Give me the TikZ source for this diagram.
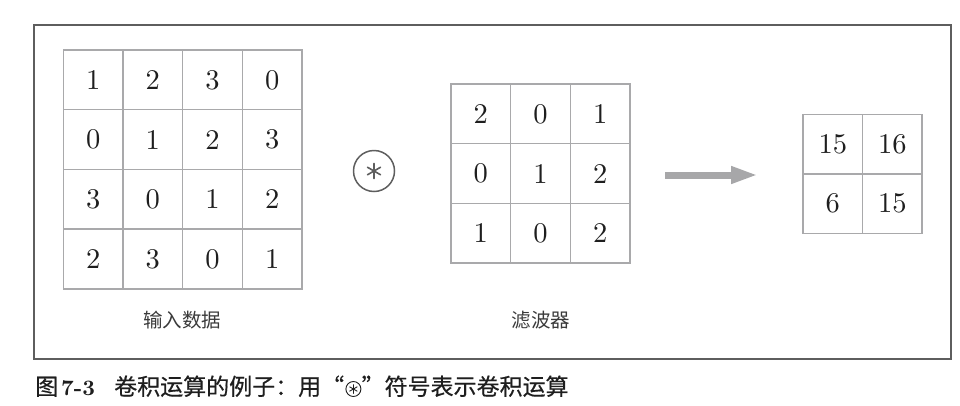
\documentclass[tikz,border=0pt]{standalone}
\usepackage{fontspec}
\setmainfont{lmroman10-regular.otf}[BoldFont=lmroman10-bold.otf]
\newfontfamily\cjk{Noto Sans CJK SC}
\newfontfamily\cjkcap{Noto Sans CJK SC}[FakeBold=0.5]
\usetikzlibrary{arrows.meta,calc}
\definecolor{gridc}{HTML}{A9A9AB}
\definecolor{framec}{HTML}{5E5E5E}
\definecolor{arrc}{HTML}{A7A7A9}
\definecolor{txt}{HTML}{1E1E1E}
\definecolor{labc}{HTML}{3A3A3A}
\tikzset{
  cell/.style={draw=gridc, line width=1.5pt, minimum size=59.7pt, inner sep=0pt,
    font=\fontsize{28.5}{30}\selectfont, text=txt, anchor=center},
  lab/.style={font=\cjk\fontsize{19.5}{21}\selectfont, text=labc, inner sep=0pt},
  captext/.style={anchor=base west, inner sep=0pt, text=txt},
  spoke/.style={draw=framec, line width=1.6pt, line cap=round},
  smallspoke/.style={draw=txt, line width=0.9pt, line cap=round}
}
\begin{document}
\begin{tikzpicture}[x=1pt,y=-1pt]
\useasboundingbox (0,0) rectangle (960,405);
\draw[framec, line width=1.3pt] (34,25) rectangle (951,359);
% input data
\foreach \row [count=\r] in {{1,2,3,0},{0,1,2,3},{3,0,1,2},{2,3,0,1}}
  \foreach \v [count=\c] in \row
    \node[cell] (in-\r-\c) at ({63.3+29.85+59.7*(\c-1)}, {50+29.85+59.7*(\r-1)}) {\v};
% filter
\foreach \row [count=\r] in {{2,0,1},{0,1,2},{1,0,2}}
  \foreach \v [count=\c] in \row
    \node[cell] (f-\r-\c) at ({451+29.85+59.7*(\c-1)}, {84+29.85+59.7*(\r-1)}) {\v};
% output
\foreach \row [count=\r] in {{15,16},{6,15}}
  \foreach \v [count=\c] in \row
    \node[cell] (o-\r-\c) at ({803+29.75+59.5*(\c-1)}, {114.5+29.75+59.5*(\r-1)}) {\v};
% operator
\node[circle, draw=framec, line width=1.5pt, minimum size=41pt, inner sep=0pt] (op) at (374,171) {};
\foreach \a in {30,90,...,330}
  \draw[spoke] (op.center) -- ++(\a:7.5);
% arrow
\coordinate (aS) at (665,175);
\coordinate (aE) at (758,175);
\draw[arrc, line width=7pt, -{Triangle[length=27pt,width=16pt]}] (aS) -- (aE);
% labels
\node[lab] (inlab) at (182,320) {输入数据};
\node[lab] (flab) at (541,320) {滤波器};
% caption
\node[captext] (capA) at (35,395) {\cjkcap\fontsize{23}{25}\selectfont 图};
\node[captext] (capN) at (61,395) {\fontsize{22}{24}\selectfont\bfseries 7-3};
\node[captext] (capB) at (114,395) {\cjkcap\fontsize{23}{25}\selectfont 卷积运算的例子：用“};
\node[circle, draw=txt, line width=0.9pt, minimum size=15pt, inner sep=0pt] (capop) at ($(capB.base east)+(9,-6)$) {};
\foreach \a in {30,90,...,330}
  \draw[smallspoke] (capop.center) -- ++(\a:4.3);
\node[captext] (capC) at ($(capB.base east)+(17,0)$) {\cjkcap\fontsize{23}{25}\selectfont ”符号表示卷积运算};
\end{tikzpicture}
\end{document}
